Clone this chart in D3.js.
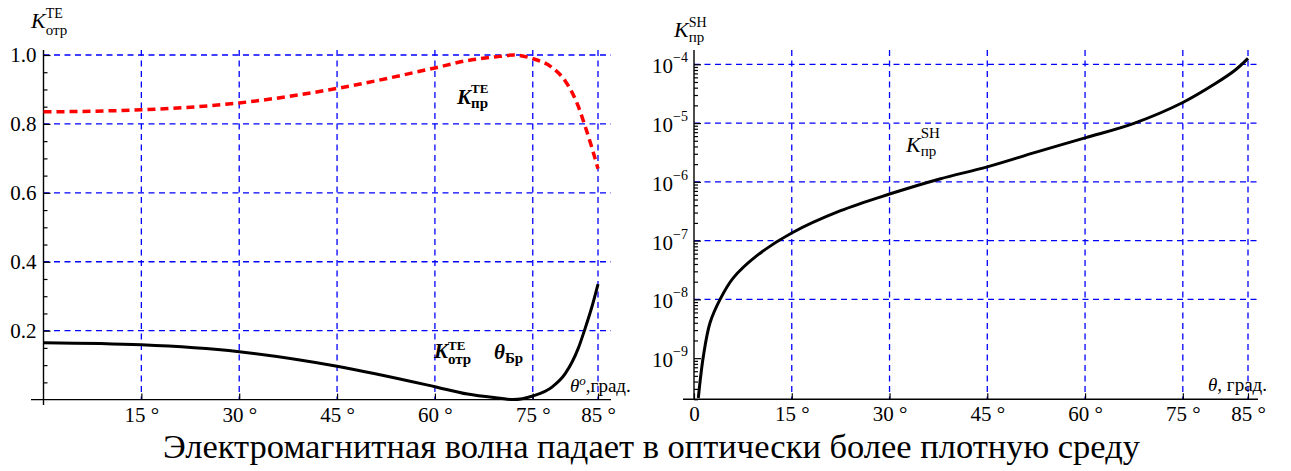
<!DOCTYPE html>
<html>
<head>
<meta charset="utf-8">
<script src="https://cdn.jsdelivr.net/npm/d3@7"></script>
</head>
<body style="margin:0;background:#fff">
<svg id="chart" width="1291" height="471"></svg>
<script>
// angles, degrees
const anglesTE = [0, 15, 30, 45, 60, 65, 70, 72, 75, 78, 80, 82, 83, 84, 85];
// reflection (black) and transmission (red) for TE
const kReflTE = [0.165, 0.159, 0.139, 0.097, 0.0375, 0.016, 0.004, 0.0, 0.0105, 0.037, 0.076, 0.15, 0.205, 0.265, 0.335];
const kTransTE = [0.835, 0.841, 0.861, 0.903, 0.9625, 0.984, 0.996, 1.0, 0.9895, 0.963, 0.924, 0.85, 0.795, 0.735, 0.67];

const anglesSH = [0.66, 1.43, 2.46, 4, 6, 9.6, 15, 22.4, 30, 37.7, 45, 52.5, 60, 67.5, 75, 80, 83, 85];
const kTransSH = [2.1e-10, 1.07e-9, 4.0e-9, 1.0e-8, 2.3e-8, 5.5e-8, 1.35e-7, 3.2e-7, 6.2e-7, 1.12e-6, 1.8e-6, 3.2e-6, 5.6e-6, 9.9e-6, 2.24e-5, 4.7e-5, 7.9e-5, 1.26e-4];

const degTicks = [15, 30, 45, 60, 75, 85];
const linTicks = [0.2, 0.4, 0.6, 0.8, 1.0];
const linMinor = [0.05, 0.1, 0.15, 0.25, 0.3, 0.35, 0.45, 0.5, 0.55, 0.65, 0.7, 0.75, 0.85, 0.9, 0.95];
const logTicks = [-4, -5, -6, -7, -8, -9];
const logGrid = [-4, -5, -6, -7, -8];
const caption = 'Электромагнитная волна падает в оптически более плотную среду';

const serif = 'Liberation Serif';
const gridColor = '#0000ff';
const gridDash = '6,4.5';
const tickFont = 21;

const svg = d3.select('#chart');
svg.append('rect').attr('width', 1291).attr('height', 471).attr('fill', '#fff');

// K with super/subscript, placed by hand
function indexedLabel(g, o) {
    const main = g.append('text')
        .attr('x', o.x).attr('y', o.y)
        .attr('font-family', serif)
        .attr('font-size', o.size)
        .attr('font-style', 'italic')
        .attr('font-weight', o.bold ? 'bold' : 'normal')
        .text(o.main);
    const w = main.node().getComputedTextLength();
    const sx = o.x + w + (o.gap || 0);
    if (o.sup) {
        g.append('text')
            .attr('x', sx).attr('y', o.y + o.supDy)
            .attr('font-family', serif)
            .attr('font-size', o.supSize)
            .attr('font-weight', o.bold ? 'bold' : 'normal')
            .text(o.sup);
    }
    if (o.sub) {
        g.append('text')
            .attr('x', sx).attr('y', o.y + o.subDy)
            .attr('font-family', serif)
            .attr('font-size', o.subSize)
            .attr('font-weight', o.bold ? 'bold' : 'normal')
            .text(o.sub);
    }
}

function styleAxis(ax) {
    ax.select('.domain').remove();
    ax.attr('font-family', serif).attr('font-size', tickFont);
    ax.selectAll('line').attr('stroke', '#000').attr('stroke-width', 1.2);
    ax.selectAll('text').attr('font-family', serif).attr('font-size', tickFont).attr('fill', '#000');
}

function drawLeftPanel() {
    const x = d3.scaleLinear().domain([0, 85]).range([43.5, 598]);
    const y = d3.scaleLinear().domain([0, 1]).range([399.6, 55]);
    const g = svg.append('g').classed('left-panel', true);

    // grid
    g.append('g').selectAll('line').data(linTicks).join('line')
        .attr('x1', x(0)).attr('x2', 611)
        .attr('y1', d => y(d)).attr('y2', d => y(d))
        .attr('stroke', gridColor).attr('stroke-width', 1.3).attr('stroke-dasharray', gridDash);
    g.append('g').selectAll('line').data(degTicks).join('line')
        .attr('x1', d => x(d)).attr('x2', d => x(d))
        .attr('y1', 50).attr('y2', y(0))
        .attr('stroke', gridColor).attr('stroke-width', 1.3).attr('stroke-dasharray', gridDash);

    // axes
    const yMinor = g.append('g').attr('transform', `translate(${x(0)},0)`)
        .call(d3.axisLeft(y).tickValues(linMinor).tickSize(-4).tickFormat(''));
    styleAxis(yMinor);
    const yMajor = g.append('g').attr('transform', `translate(${x(0)},0)`)
        .call(d3.axisLeft(y).tickValues(linTicks).tickSize(-7).tickPadding(7).tickFormat(d3.format('.1f')));
    styleAxis(yMajor);
    const xAxis = g.append('g').attr('transform', `translate(0,${y(0)})`)
        .call(d3.axisBottom(x).tickValues(degTicks).tickSize(-6).tickPadding(7).tickFormat(d => d + ' °'));
    styleAxis(xAxis);

    g.append('line').attr('x1', x(0)).attr('x2', x(0)).attr('y1', 50).attr('y2', 405)
        .attr('stroke', '#000').attr('stroke-width', 1.4);
    g.append('line').attr('x1', 31).attr('x2', 611).attr('y1', y(0)).attr('y2', y(0))
        .attr('stroke', '#000').attr('stroke-width', 1.4);

    // curves
    const line = d3.line()
        .x((d, i) => x(anglesTE[i]))
        .y(d => y(d))
        .curve(d3.curveMonotoneX);
    g.append('path').datum(kTransTE)
        .attr('d', line).attr('fill', 'none')
        .attr('stroke', '#ff0000').attr('stroke-width', 3.5).attr('stroke-dasharray', '8,5');
    g.append('path').datum(kReflTE)
        .attr('d', line).attr('fill', 'none')
        .attr('stroke', '#000').attr('stroke-width', 3);

    // labels
    indexedLabel(g, {x: 31, y: 28, main: 'K', size: 22, sup: 'TE', supDy: -10, supSize: 14, sub: 'отр', subDy: 7, subSize: 15});
    indexedLabel(g, {x: 457, y: 104, main: 'K', size: 21, bold: true, sup: 'TE', supDy: -11, supSize: 13, sub: 'пр', subDy: 4, subSize: 15});
    indexedLabel(g, {x: 434, y: 358, main: 'K', size: 21, bold: true, sup: 'TE', supDy: -8, supSize: 13, sub: 'отр', subDy: 6, subSize: 15});
    indexedLabel(g, {x: 494, y: 359, main: 'θ', size: 21, bold: true, sub: 'Бр', subDy: 4, subSize: 15});

    const ax = g.append('text').attr('x', 570).attr('y', 392).attr('font-family', serif).attr('font-size', 19);
    ax.append('tspan').attr('font-style', 'italic').text('θ');
    ax.append('tspan').attr('font-style', 'italic').attr('font-size', 13).attr('dy', -7).text('o');
    ax.append('tspan').attr('dy', 7).text(',град.');
}

function drawRightPanel() {
    const x = d3.scaleLinear().domain([0, 85]).range([694, 1248]);
    const y = d3.scaleLog().domain([Math.pow(10, -9.7), Math.pow(10, -3.757)]).range([399.3, 50]);
    const g = svg.append('g').classed('right-panel', true);

    // grid
    g.append('g').selectAll('line').data(logGrid).join('line')
        .attr('x1', x(0)).attr('x2', 1258)
        .attr('y1', d => y(Math.pow(10, d))).attr('y2', d => y(Math.pow(10, d)))
        .attr('stroke', gridColor).attr('stroke-width', 1.3).attr('stroke-dasharray', gridDash);
    g.append('g').selectAll('line').data(degTicks).join('line')
        .attr('x1', d => x(d)).attr('x2', d => x(d))
        .attr('y1', 50).attr('y2', y.range()[0])
        .attr('stroke', gridColor).attr('stroke-width', 1.3).attr('stroke-dasharray', gridDash);

    // log minor ticks
    const [lo, hi] = y.domain();
    const minor = [];
    for (let k = -10; k <= -4; k++) {
        for (let m = 2; m <= 9; m++) {
            const v = m * Math.pow(10, k);
            if (v >= lo && v <= hi) minor.push(v);
        }
    }
    const yMinor = g.append('g').attr('transform', `translate(${x(0)},0)`)
        .call(d3.axisLeft(y).tickValues(minor).tickSize(-4).tickFormat(''));
    styleAxis(yMinor);
    const yMajor = g.append('g').attr('transform', `translate(${x(0)},0)`)
        .call(d3.axisLeft(y).tickValues(logTicks.map(d => Math.pow(10, d))).tickSize(-7).tickFormat(''));
    styleAxis(yMajor);

    const ylab = g.append('g').selectAll('text').data(logTicks).join('text')
        .attr('x', x(0) - 6)
        .attr('y', d => y(Math.pow(10, d)) + 9)
        .attr('text-anchor', 'end')
        .attr('font-family', serif)
        .attr('font-size', tickFont);
    ylab.append('tspan').text('10');
    ylab.append('tspan').attr('dy', -11).attr('font-size', 14).text(d => '−' + (-d));

    const xAxis = g.append('g').attr('transform', `translate(0,${y.range()[0]})`)
        .call(d3.axisBottom(x).tickValues([0].concat(degTicks)).tickSize(-6).tickPadding(7)
            .tickFormat(d => d === 0 ? '0' : d + ' °'));
    styleAxis(xAxis);

    g.append('line').attr('x1', x(0)).attr('x2', x(0)).attr('y1', 50).attr('y2', 400)
        .attr('stroke', '#000').attr('stroke-width', 1.4);
    g.append('line').attr('x1', 683).attr('x2', 1258).attr('y1', y.range()[0]).attr('y2', y.range()[0])
        .attr('stroke', '#000').attr('stroke-width', 1.4);

    const line = d3.line()
        .x((d, i) => x(anglesSH[i]))
        .y(d => y(d))
        .curve(d3.curveCatmullRom.alpha(0.5));
    g.append('path').datum(kTransSH)
        .attr('d', line).attr('fill', 'none')
        .attr('stroke', '#000').attr('stroke-width', 3);

    indexedLabel(g, {x: 674, y: 37, main: 'K', size: 22, sup: 'SH', supDy: -10, supSize: 14, sub: 'пр', subDy: 5, subSize: 15});
    indexedLabel(g, {x: 906, y: 152, main: 'K', size: 22, sup: 'SH', supDy: -14, supSize: 15, sub: 'пр', subDy: 4, subSize: 15});

    const ax = g.append('text').attr('x', 1208).attr('y', 391).attr('font-family', serif).attr('font-size', 19);
    ax.append('tspan').attr('font-style', 'italic').text('θ');
    ax.append('tspan').text(', град.');
}

drawLeftPanel();
drawRightPanel();

svg.append('text')
    .attr('x', 651.5).attr('y', 458)
    .attr('text-anchor', 'middle')
    .attr('font-family', serif)
    .attr('font-size', 33)
    .attr('textLength', 977)
    .attr('lengthAdjust', 'spacingAndGlyphs')
    .text(caption);
</script>
</body>
</html>
